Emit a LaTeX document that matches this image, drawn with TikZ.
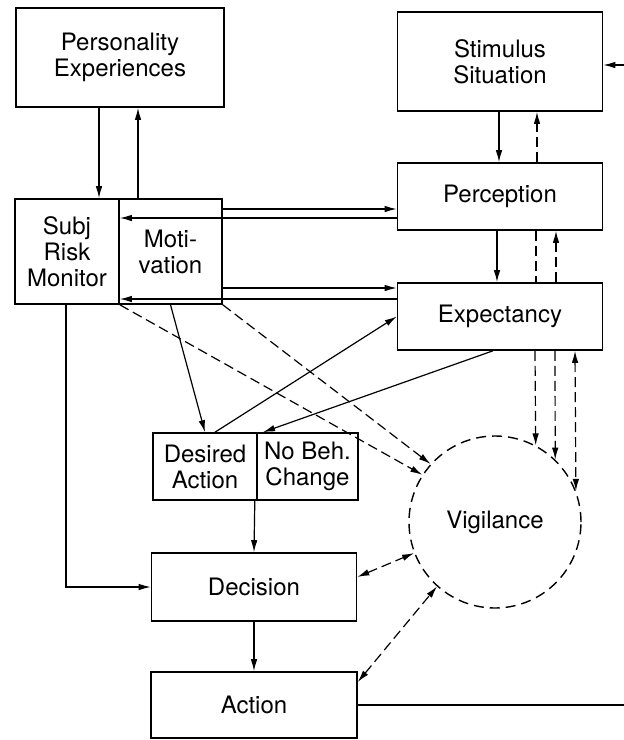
\documentclass[tikz,border=0pt]{standalone}
\usepackage{fontspec}
\setmainfont{TeX Gyre Heros}
\usetikzlibrary{arrows.meta}

\begin{document}
\begin{tikzpicture}[x=1pt, y=-1pt, >={Latex[length=12pt,width=6.5pt]},
		box/.style={draw, line width=1.6pt, inner sep=0pt, align=center, font=\fontsize{24}{26}\selectfont},
		link/.style={line width=1.2pt, ->},
		dline/.style={line width=1.2pt, dash pattern=on 10pt off 5pt},
		dlink/.style={dline, ->},
		dlinks/.style={dline, <->}]
		\useasboundingbox (0,0) rectangle (624,740);
		
		\node[box, minimum width=208pt, minimum height=99pt] (pers) at (120,57.5) {Personality\\Experiences};
		\node[box, minimum width=205pt, minimum height=99pt] (stim) at (500,61.5) {Stimulus\\Situation};
		\node[box, minimum width=205pt, minimum height=67pt] (perc) at (500,196.5) {Perception};
		\node[box, minimum width=205pt, minimum height=67pt] (expt) at (500,316.5) {Expectancy};
		
		\node[box, minimum width=104pt, minimum height=105pt] (subj) at (67,251.5) {Subj\\Risk\\Monitor};
		\node[box, minimum width=103pt, minimum height=105pt] (motv) at (170.5,251.5) {Moti-\\vation};
		
		\node[box, minimum width=104pt, minimum height=67pt] (desr) at (205,466.5) {Desired\\Action};
		\node[box, minimum width=101pt, minimum height=67pt] (nobh) at (307.5,466.5) {No Beh.\\Change};
		
		\node[box, circle, line width=1.4pt, dash pattern=on 10pt off 6pt, minimum size=172pt] (vigi) at (495,522) {Vigilance};
		
		\node[box, minimum width=205pt, minimum height=68pt] (decs) at (254,587) {Decision};
		\node[box, minimum width=206pt, minimum height=66pt] (actn) at (254,705) {Action};
		
		\coordinate (inR) at (624,65);
		\coordinate (outR) at (624,705);
		
		\draw[link] ([xshift=-21pt]pers.south) -- ([xshift=32pt]subj.north);
		\draw[link] ([xshift=-32.5pt]motv.north) -- ([xshift=18pt]pers.south);
		
		\draw[link] (inR) -- ([yshift=-3.5pt]stim.east);
		\draw[link] ([xshift=-1pt]stim.south) -- ([xshift=-1pt]perc.north);
		\draw[dlink] ([xshift=37pt]perc.north) -- ([xshift=37pt]stim.south);
		\draw[link] ([xshift=-3pt]perc.south) -- ([xshift=-3pt]expt.north);
		\draw[dline] ([xshift=36pt]perc.south) -- ([xshift=36pt]expt.north);
		\draw[dlink] ([xshift=56pt]expt.north) -- ([xshift=56pt]perc.south);
		
		\draw[link] ([yshift=42.5pt]motv.east) -- ([yshift=-12.5pt]perc.west);
		\draw[link] ([yshift=-21.5pt]perc.west) -- ([yshift=33.5pt]subj.east);
		\draw[link] ([yshift=-36.5pt]motv.east) -- ([yshift=28.5pt]expt.west);
		\draw[link] ([yshift=17.5pt]expt.west) -- ([yshift=-47.5pt]subj.east);
		
		\draw[link] ([xshift=-1pt]subj.south) |- (decs.west);
		\draw[link] (motv.south) -- (desr.north);
		\draw[link] ([xshift=10pt]desr.north) -- (expt.west);
		\draw[link] ([xshift=-7pt]expt.south) -- ([xshift=-44.5pt]nobh.north);
		\draw[link] ([xshift=-3pt]desr.south east) -- (decs.north);
		\draw[link] (decs.south) -- (actn.north);
		\draw[line width=1.2pt] (actn.east) -- (outR);
		
		\draw[dlink] (subj.south east) -- (vigi.147);
		\draw[dlink] (motv.south east) -- (vigi.138);
		\draw[dlink] ([xshift=35pt]expt.south) -- (vigi.62);
		\draw[dlink] ([xshift=55pt]expt.south) -- (vigi.46);
		\draw[dlinks] ([xshift=75pt]expt.south) -- (vigi.21.5);
		\draw[dlinks] ([yshift=10pt]decs.east) -- (vigi.201);
		\draw[dlinks] ([yshift=23pt]actn.east) -- (vigi.228);
	\end{tikzpicture}
\end{document}
